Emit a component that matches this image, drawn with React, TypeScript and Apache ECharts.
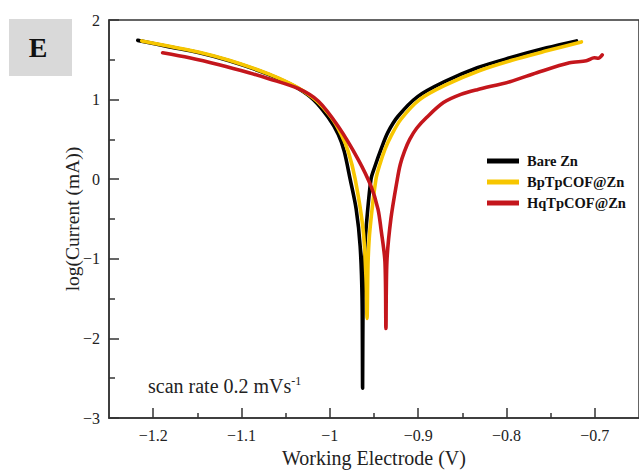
import React, { useEffect, useRef } from "react";
import * as echarts from "echarts";

const FONT = '"Liberation Serif", "Times New Roman", Times, serif';

const seriesNames = ["Bare Zn", "BpTpCOF@Zn", "HqTpCOF@Zn"];
const seriesColors = ["#000000", "#F7C600", "#C4161C"];

const bareZn: [number, number][] = [
  [-1.2174, 1.744], [-1.1815, 1.6625], [-1.1478, 1.5875], [-1.114, 1.4875],
  [-1.0803, 1.3625], [-1.0579, 1.2625], [-1.0354, 1.1375], [-1.0185, 1.0],
  [-1.0017, 0.775], [-0.9904, 0.5625], [-0.9837, 0.35], [-0.977, 0.0],
  [-0.9702, -0.375], [-0.9657, -0.8375], [-0.9635, -1.5], [-0.9629, -2.625],
  [-0.9624, -1.5], [-0.9612, -1.0375], [-0.959, -0.625], [-0.9534, 0.0],
  [-0.9489, 0.1625], [-0.9421, 0.375], [-0.9343, 0.5875], [-0.923, 0.7875],
  [-0.9006, 1.0375], [-0.8702, 1.225], [-0.8331, 1.4], [-0.7961, 1.525],
  [-0.7545, 1.65], [-0.7208, 1.7375],
];

const bpTpCOF: [number, number][] = [
  [-1.2129, 1.7375], [-1.1815, 1.669], [-1.1478, 1.594], [-1.114, 1.494],
  [-1.0803, 1.369], [-1.0579, 1.269], [-1.0354, 1.144], [-1.0152, 0.9875],
  [-0.9983, 0.775], [-0.9871, 0.5625], [-0.9792, 0.35], [-0.9713, 0.0],
  [-0.9624, -0.625], [-0.959, -1.25], [-0.9579, -1.75],
  [-0.9567, -1.0375], [-0.9545, -0.625], [-0.9478, 0.0], [-0.9433, 0.1875],
  [-0.9376, 0.375], [-0.9309, 0.5375], [-0.9197, 0.75], [-0.8983, 1.0],
  [-0.868, 1.1875], [-0.8309, 1.3625], [-0.7938, 1.494], [-0.7545, 1.6125],
  [-0.7152, 1.725],
];

const hqTpCOF: [number, number][] = [
  [-1.1893, 1.5875], [-1.159, 1.525], [-1.1253, 1.4375], [-1.0916, 1.3375],
  [-1.0691, 1.2625], [-1.0354, 1.1375], [-1.0129, 0.98], [-0.9904, 0.6625],
  [-0.968, 0.25], [-0.9534, -0.0875], [-0.9455, -0.375], [-0.9421, -0.625],
  [-0.9376, -1.0375], [-0.9365, -1.875],
  [-0.9354, -1.0375], [-0.9309, -0.5], [-0.9236, 0.0], [-0.9202, 0.1875],
  [-0.9155, 0.35], [-0.9096, 0.5], [-0.9017, 0.64], [-0.8905, 0.775],
  [-0.8714, 0.9625], [-0.8517, 1.065], [-0.8331, 1.125], [-0.7961, 1.225],
  [-0.7657, 1.3375], [-0.7287, 1.4625], [-0.7096, 1.4875], [-0.7006, 1.525],
  [-0.6961, 1.52], [-0.6916, 1.5625],
];

const xMajorTicks = [-1.2, -1.1, -1.0, -0.9, -0.8, -0.7];
const xMinorTicks = [-1.15, -1.05, -0.95, -0.85, -0.75];

const fmt = (v: number) => String(Number(v.toFixed(2))).replace("-", "\u2212");

export default function App() {
  const ref = useRef<HTMLDivElement>(null);
  useEffect(() => {
    if (!ref.current) return;
    const chart = echarts.init(ref.current, undefined, { renderer: "svg" });
    const axisColor = "#333";
    const allData = [bareZn, bpTpCOF, hqTpCOF];
    chart.setOption({
      animation: false,
      backgroundColor: "#ffffff",
      grid: {
        left: 109,
        top: 20,
        width: 534,
        height: 400,
        show: true,
        borderColor: axisColor,
        borderWidth: 1.5,
        backgroundColor: "transparent",
      },
      legend: {
        orient: "vertical",
        left: 482,
        top: 148.5,
        icon: "rect",
        itemWidth: 32,
        itemHeight: 5,
        itemGap: 6,
        data: seriesNames,
        textStyle: {
          fontFamily: FONT,
          fontWeight: "bold",
          fontSize: 14.5,
          color: "#111",
          padding: [0, 0, 0, 3],
        },
      },
      xAxis: [
        {
          type: "value",
          min: -1.25,
          max: -0.65,
          position: "bottom",
          name: "Working Electrode (V)",
          nameLocation: "middle",
          nameGap: 30,
          nameMoveOverlap: false,
          nameTextStyle: { fontFamily: FONT, fontSize: 20, color: "#222" },
          axisLine: { show: true, onZero: false, lineStyle: { color: axisColor, width: 1.5 } },
          axisTick: {
            show: true,
            inside: true,
            length: 10,
            customValues: xMajorTicks,
            lineStyle: { color: axisColor, width: 1.5 },
          },
          axisLabel: {
            customValues: xMajorTicks,
            formatter: fmt,
            fontFamily: FONT,
            fontSize: 16,
            color: "#222",
            margin: 9,
          },
          splitLine: { show: false },
        },
        {
          type: "value",
          min: -1.25,
          max: -0.65,
          position: "bottom",
          axisLine: { show: false, onZero: false },
          axisTick: {
            show: true,
            inside: true,
            length: 5,
            customValues: xMinorTicks,
            lineStyle: { color: axisColor, width: 1.5 },
          },
          axisLabel: { show: false },
          splitLine: { show: false },
        },
      ],
      yAxis: {
        type: "value",
        min: -3,
        max: 2,
        interval: 1,
        name: "log(Current (mA))",
        nameLocation: "middle",
        nameGap: 27,
        nameMoveOverlap: false,
        nameTextStyle: { fontFamily: FONT, fontSize: 19.5, color: "#222" },
        axisLine: { show: true, onZero: false, lineStyle: { color: axisColor, width: 1.5 } },
        axisTick: {
          show: true,
          inside: true,
          length: 10,
          lineStyle: { color: axisColor, width: 1.5 },
        },
        minorTick: {
          show: true,
          splitNumber: 2,
          length: 6,
          lineStyle: { color: axisColor, width: 1.5 },
        },
        axisLabel: {
          formatter: fmt,
          fontFamily: FONT,
          fontSize: 16,
          color: "#222",
          margin: 9,
        },
        splitLine: { show: false },
        minorSplitLine: { show: false },
      },
      series: seriesNames.map((name, i) => ({
        name,
        type: "line",
        xAxisIndex: 0,
        data: allData[i],
        showSymbol: false,
        symbol: "none",
        smooth: 0.3,
        color: seriesColors[i],
        lineStyle: { color: seriesColors[i], width: 3.6, cap: "round", join: "round" },
        z: 2 + i,
      })),
      graphic: [
        {
          type: "rect",
          shape: { x: 9, y: 19, width: 63, height: 57 },
          style: { fill: "#d9d9d9" },
        },
        {
          type: "text",
          x: 38,
          y: 47.5,
          style: {
            text: "E",
            fontFamily: FONT,
            fontWeight: "bold",
            fontSize: 28,
            fill: "#111",
            align: "center",
            verticalAlign: "middle",
          },
        },
        {
          type: "text",
          x: 148,
          y: 386,
          style: {
            text: "{a|scan rate 0.2 mVs}{b|-1}",
            verticalAlign: "middle",
            rich: {
              a: { fontFamily: FONT, fontSize: 20, fill: "#222", color: "#222", lineHeight: 22 },
              b: {
                fontFamily: FONT,
                fontSize: 12,
                fill: "#222",
                color: "#222",
                verticalAlign: "top",
                lineHeight: 12,
              },
            },
          },
        },
      ],
    });
    return () => chart.dispose();
  }, []);
  return (
    <div
      ref={ref}
      style={{ position: "fixed", left: 0, top: 0, width: 639, height: 473 }}
    />
  );
}
